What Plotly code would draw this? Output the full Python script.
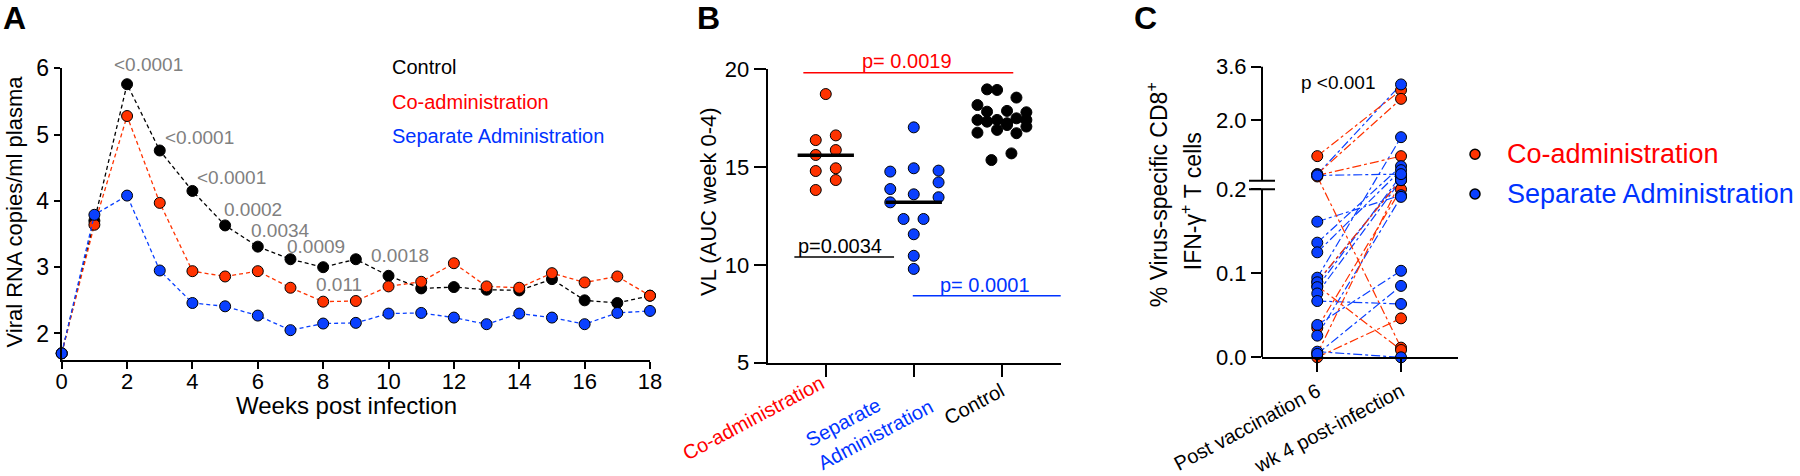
import plotly.graph_objects as go

FONT = "Liberation Sans, Arial, Helvetica, sans-serif"
W, H = 1800, 476

# ---------------- Panel A data ----------------
weeks = list(range(19))
control = [1.70, 3.70, 5.76, 4.76, 4.15, 3.63, 3.31, 3.12, 3.00, 3.12, 2.87, 2.68, 2.70, 2.66, 2.65, 2.82, 2.50, 2.46, 2.57]
coadmin = [1.70, 3.64, 5.28, 3.97, 2.94, 2.86, 2.94, 2.69, 2.48, 2.49, 2.71, 2.78, 3.06, 2.71, 2.69, 2.91, 2.77, 2.86, 2.57]
separate = [1.70, 3.79, 4.08, 2.95, 2.46, 2.41, 2.27, 2.05, 2.15, 2.16, 2.30, 2.31, 2.24, 2.14, 2.30, 2.24, 2.14, 2.31, 2.34]
a_series_names = ["Control", "Co-administration", "Separate Administration"]
a_p_labels = ["<0.0001", "<0.0001", "<0.0001", "0.0002", "0.0034", "0.0009", "0.0018", "0.011"]
a_p_weeks = [2.67, 4.23, 5.18, 5.85, 6.68, 7.78, 10.36, 8.47]
a_p_levels = [6.06, 4.95, 4.36, 3.87, 3.56, 3.31, 3.17, 2.74]
A_YR = [1.6, 6.0]

# ---------------- Panel B data ----------------
b_categories = ["Co-administration", "Separate<br>Administration", "Control"]
b_coadmin = [18.72, 16.37, 16.61, 15.86, 15.61, 14.93, 14.79, 14.33, 13.82]
b_separate = [17.02, 14.76, 14.93, 14.81, 14.21, 13.87, 13.60, 13.45, 13.19, 12.34, 12.34, 11.56, 10.46, 9.79]
b_control = [18.96, 18.93, 18.54, 18.16, 17.82, 17.86, 17.79, 17.40, 17.31, 17.40, 17.23, 17.48, 17.40,
             16.75, 16.89, 16.72, 17.06, 17.14, 15.35, 15.69]
b_medians = [15.60, 13.19, 17.36]
b_p_labels = ["p= 0.0019", "p=0.0034", "p= 0.0001"]
B_YR = [5, 20]

# beeswarm offsets (layout only)
b_coadmin_jit = [0, -0.114, 0.114, 0.114, -0.114, 0.114, -0.114, 0.114, -0.114]
b_separate_jit = [0, -0.267, 0, 0.282, 0.282, -0.267, 0, 0.282, -0.267, -0.116, 0.111, 0, 0, 0]
b_control_jit = [-0.167, -0.053, 0.167, -0.276, -0.167, 0.06, 0.28, -0.276, -0.167, -0.053, 0.06, 0.167, 0.28,
                 -0.276, -0.053, 0.167, 0.28, 0.06, -0.117, 0.11]

# ---------------- Panel C data ----------------
c_categories = ["Post vaccination 6", "wk 4 post-infection"]
c_groups = ["Co-administration", "Separate Administration"]
c_co_pre = [0.935, 0.40, 0.36, 0.33, 0.085, 0.035, 0.0, 0.004, 0.090]
c_co_post = [2.90, 2.64, 0.935, 0.0115, 0.0087, 0.20, 0.0464, 0.22, 0.24]
c_sep_pre = [0.39, 0.1615, 0.1365, 0.125, 0.0948, 0.0893, 0.0835, 0.076, 0.067, 0.0385, 0.0258, 0.0067, 0.004, 0.36]
c_sep_post = [3.07, 0.193, 0.637, 0.518, 1.50, 0.26, 0.358, 0.22, 0.0635, 0.103, 0.191, 0.0, 0.085, 0.40]
c_ticks = [0.0, 0.1, 0.2, 2.0, 3.6]
c_ticktext = ["0.0", "0.1", "0.2", "2.0", "3.6"]

RED_M = "#FF3300"
BLUE_M = "#0A40FF"
RED_T = "#FF0000"
BLUE_T = "#0033FF"
GRAY = "#808080"


def c_map(v):
    """Broken-axis transform: 0-0.2 expanded, 0.2-3.6 compressed."""
    return v * 840.0 if v <= 0.2 else 176.5 + (v - 0.2) * 33.6


C_TOP = c_map(3.6) + 0.01


def X(px):
    return px / W


def Y(py):
    return 1 - py / H


def dom(v, rng):
    return (v - rng[0]) / (rng[1] - rng[0])


fig = go.Figure()

# ---- Panel A traces ----
for vals, col in [(control, "black"), (coadmin, RED_M), (separate, BLUE_M)]:
    fig.add_trace(go.Scatter(
        x=weeks, y=vals, mode="lines+markers", xaxis="x", yaxis="y",
        line=dict(color=col, width=1.3, dash="4px,3px"),
        marker=dict(size=11, color=col, line=dict(color="black", width=1)),
        cliponaxis=False, showlegend=False, hoverinfo="skip"))

# ---- Panel B traces ----
for i, (vals, jit, col) in enumerate([(b_coadmin, b_coadmin_jit, RED_M),
                                       (b_separate, b_separate_jit, BLUE_M),
                                       (b_control, b_control_jit, "black")]):
    fig.add_trace(go.Scatter(
        x=[i + j for j in jit], y=vals, mode="markers", xaxis="x2", yaxis="y2",
        marker=dict(size=11, color=col, line=dict(color="black", width=1)),
        cliponaxis=False, showlegend=False, hoverinfo="skip"))
for i, m in enumerate(b_medians):
    fig.add_trace(go.Scatter(
        x=[i - 0.32, i + 0.32], y=[m, m], mode="lines", xaxis="x2", yaxis="y2",
        line=dict(color="black", width=3.5), showlegend=False, hoverinfo="skip"))

# ---- Panel C traces ----
for pre, post, col in [(c_sep_pre, c_sep_post, BLUE_M), (c_co_pre, c_co_post, RED_M)]:
    for a, b in zip(pre, post):
        fig.add_trace(go.Scatter(
            x=[0, 1], y=[c_map(a), c_map(b)], mode="lines", xaxis="x3", yaxis="y3",
            line=dict(color=col, width=1.2, dash="dashdot"),
            showlegend=False, hoverinfo="skip"))
for pre, post, col in [(c_co_pre, c_co_post, RED_M), (c_sep_pre, c_sep_post, BLUE_M)]:
    fig.add_trace(go.Scatter(
        x=[0] * len(pre) + [1] * len(post), y=[c_map(v) for v in pre + post],
        mode="markers", xaxis="x3", yaxis="y3",
        marker=dict(size=11, color=col, line=dict(color="black", width=1)),
        cliponaxis=False, showlegend=False, hoverinfo="skip"))

# ---- Panel C legend keys (hidden helper axes) ----
fig.add_trace(go.Scatter(
    x=[0.5, 0.5], y=[1, 0], mode="markers", xaxis="x4", yaxis="y4",
    marker=dict(size=10, color=[RED_M, BLUE_M], line=dict(color="black", width=1.5)),
    cliponaxis=False, showlegend=False, hoverinfo="skip"))

axis_common = dict(showgrid=False, zeroline=False, showline=True, linecolor="black", linewidth=2,
                   tickcolor="black", tickwidth=2, automargin=False)

fig.update_layout(
    width=W, height=H, margin=dict(l=0, r=0, t=0, b=0, autoexpand=False),
    paper_bgcolor="white", plot_bgcolor="white", showlegend=False,
    font=dict(family=FONT, color="black"),
    xaxis=dict(domain=[X(61.7), X(650)], range=[0, 18], tickvals=list(range(0, 19, 2)),
               ticks="outside", ticklen=7, ticklabelstandoff=-6, tickfont=dict(size=22),
               anchor="y", **axis_common),
    yaxis=dict(domain=[Y(360), Y(68.3)], range=A_YR, tickvals=[2, 3, 4, 5, 6],
               ticks="outside", ticklen=6, tickfont=dict(size=23), anchor="x", **axis_common),
    xaxis2=dict(domain=[X(767.7), X(1060.7)], range=[-0.66, 2.67], tickvals=[0, 1, 2],
                showticklabels=False, ticks="outside", ticklen=12, anchor="y2", **axis_common),
    yaxis2=dict(domain=[Y(362.7), Y(69)], range=B_YR, tickvals=[5, 10, 15, 20],
                ticks="outside", ticklen=12, tickfont=dict(size=22), anchor="x2", **axis_common),
    xaxis3=dict(domain=[X(1262), X(1458)], range=[-0.66, 1.68], tickvals=[0, 1],
                ticktext=c_categories, tickangle=-28, ticks="outside", ticklen=13,
                tickfont=dict(size=20), anchor="y3", **axis_common),
    yaxis3=dict(domain=[Y(357.3), Y(66.6)], range=[0, C_TOP], tickvals=[c_map(v) for v in c_ticks],
                ticktext=c_ticktext, ticks="outside", ticklen=10, tickwidth=2, tickcolor="black",
                tickfont=dict(size=22), anchor="x3", showgrid=False, zeroline=False, showline=False,
                automargin=False),
    xaxis4=dict(domain=[X(1465), X(1485)], range=[0, 1], visible=False, anchor="y4", fixedrange=True),
    yaxis4=dict(domain=[Y(194), Y(154.3)], range=[0, 1], visible=False, anchor="x4", fixedrange=True),
)

ann = []


def A(text, x, y, xref="paper", yref="paper", size=20, color="black", xanchor="center",
      yanchor="middle", **kw):
    ann.append(dict(text=text, x=x, y=y, xref=xref, yref=yref, showarrow=False,
                    xanchor=xanchor, yanchor=yanchor,
                    font=dict(size=size, color=color, family=FONT), **kw))


# panel letters
A("<b>A</b>", X(14.5), Y(18.5), size=32)
A("<b>B</b>", X(708), Y(18.5), size=32)
A("<b>C</b>", X(1145), Y(18.5), size=32)

# panel A texts
A("Viral RNA copies/ml plasma", X(13.5), Y(212), size=22, textangle=-90)
A("Weeks post infection", X(346), Y(405), size=24)
for name, yy, col in zip(a_series_names, [66.7, 101.7, 136], ["black", RED_T, BLUE_T]):
    A(name, X(389.7), Y(yy), size=20, color=col, xanchor="left")
for t, xx, yy in zip(a_p_labels, a_p_weeks, a_p_levels):
    A(t, xx, dom(yy, A_YR), xref="x", yref="y domain", size=19, color=GRAY)

# panel B texts
A("VL (AUC week 0-4)", X(708), Y(202), size=22, textangle=-90)
A(b_p_labels[0], 0.92, dom(20.41, B_YR), xref="x2", yref="y2 domain", size=20, color=RED_T)
A(b_p_labels[1], 0.163, dom(10.98, B_YR), xref="x2", yref="y2 domain", size=20, color="black")
A(b_p_labels[2], 1.81, dom(8.97, B_YR), xref="x2", yref="y2 domain", size=20, color=BLUE_T)
A(b_categories[0], X(753), Y(418), size=20, color=RED_T, textangle=-28)
A(b_categories[1], X(869.5), Y(423), size=20, color=BLUE_T, textangle=-28, align="left")
A(b_categories[2], X(974), Y(404), size=20, color="black", textangle=-28)

# panel C texts
A("% Virus-specific CD8<sup>+</sup>", X(1156.7), Y(194.5), size=23, textangle=-90)
A("IFN-γ<sup>+</sup> T cells", X(1190.7), Y(201.5), size=23, textangle=-90)
A("p <0.001", X(1338), Y(82.3), size=19)
A(c_groups[0], X(1505), Y(154.3), size=27, color=RED_T, xanchor="left")
A(c_groups[1], X(1505), Y(194), size=27, color=BLUE_T, xanchor="left")

fig.update_layout(annotations=ann)

shapes = [
    # Panel B comparison bars
    dict(type="line", xref="x2", yref="y2", x0=-0.255, x1=2.131, y0=19.81, y1=19.81,
         line=dict(color=RED_T, width=1.5)),
    dict(type="line", xref="x2", yref="y2", x0=-0.357, x1=0.776, y0=10.40, y1=10.40,
         line=dict(color="black", width=1.5)),
    dict(type="line", xref="x2", yref="y2", x0=0.989, x1=2.68, y0=8.42, y1=8.42,
         line=dict(color=BLUE_T, width=1.5)),
    # Panel C broken y axis
    dict(type="line", xref="x3 domain", yref="y3", x0=0, x1=0, y0=0, y1=c_map(0.2),
         line=dict(color="black", width=2)),
    dict(type="line", xref="x3 domain", yref="y3", x0=0, x1=0, y0=176.5, y1=c_map(3.6),
         line=dict(color="black", width=2)),
    dict(type="line", xref="paper", yref="y3", x0=X(1249), x1=X(1275), y0=c_map(0.2), y1=c_map(0.2),
         line=dict(color="black", width=2)),
    dict(type="line", xref="paper", yref="y3", x0=X(1249), x1=X(1275), y0=176.5, y1=176.5,
         line=dict(color="black", width=2)),
]
fig.update_layout(shapes=shapes)

fig.write_html("out.html", config={"displayModeBar": False},
               post_script="document.body.style.margin='0px';document.body.style.padding='0px';")
